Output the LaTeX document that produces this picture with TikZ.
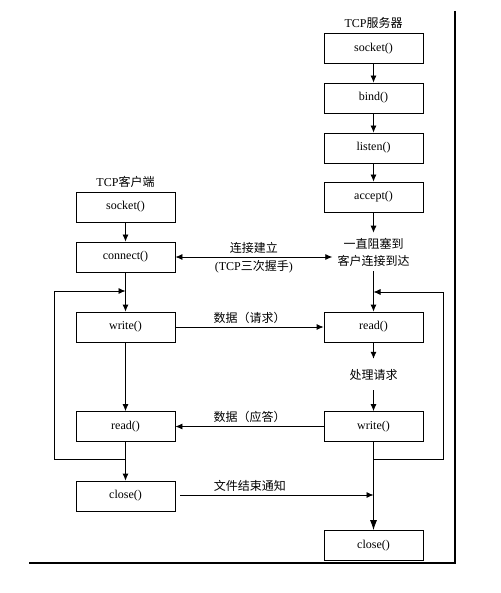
\documentclass[tikz,border=0pt]{standalone}
\usepackage{fontspec}
\setmainfont{Liberation Serif}
\newfontfamily\cjk{Noto Sans CJK SC}
\usetikzlibrary{arrows.meta}

\begin{document}
\begin{tikzpicture}[x=1pt, y=-1pt, font=\fontsize{12}{17}\selectfont,
    box/.style={draw, line width=0.8pt, minimum width=99pt, minimum height=30pt, inner sep=0pt},
    flow/.style={line width=0.8pt, -{Latex[length=7pt, width=6pt]}},
    frame/.style={line width=2.5pt}]
    \useasboundingbox (0, 0) rectangle (500, 593);

    % server side
    \node (stitle) at (373.5, 23) {TCP{\cjk 服务器}};
    \node[box] (ssock) at (373.5, 48.5) {socket()};
    \node[box] (sbind) at (373.5, 98) {bind()};
    \node[box] (slisten) at (373.5, 148) {listen()};
    \node[box] (saccept) at (373.5, 197) {accept()};
    \node[align=center, inner sep=5pt] (wait) at (373.5, 252) {{\cjk 一直阻塞到}\\{\cjk 客户连接到达}};
    \node[box] (sread) at (373.5, 327) {read()};
    \node[inner ysep=10pt] (proc) at (373.5, 374.5) {\cjk 处理请求};
    \node[box] (swrite) at (373.5, 426.5) {write()};
    \node[box] (sclose) at (373.5, 545.5) {close()};

    % client side
    \node (ctitle) at (125.5, 182) {TCP{\cjk 客户端}};
    \node[box] (csock) at (125.5, 207) {socket()};
    \node[box] (cconn) at (125.5, 257) {connect()};
    \node[box] (cwrite) at (125.5, 327) {write()};
    \node[box] (cread) at (125.5, 426.5) {read()};
    \node[box] (cclose) at (125.5, 496) {close()};

    \coordinate (cloop) at (125.5, 459);
    \coordinate (cback) at (125.5, 291);
    \coordinate (sloop) at (373.5, 459);
    \coordinate (sback) at (373.5, 292);
    \coordinate (fin) at (373.5, 495);

    \draw[flow] (ssock) -- (sbind);
    \draw[flow] (sbind) -- (slisten);
    \draw[flow] (slisten) -- (saccept);
    \draw[flow] (saccept) -- (wait);
    \draw[flow] (wait) -- (sread);
    \draw[flow] (sread) -- (proc);
    \draw[flow] (proc) -- (swrite);
    \draw[line width=0.8pt, -{Latex[length=10pt, width=7pt]}] (swrite) -- (sclose);
    \draw[flow] (sloop) -- (443, 459) -- (443, 292) -- (sback);

    \draw[flow] (csock) -- (cconn);
    \draw[flow] (cconn) -- (cwrite);
    \draw[flow] (cwrite) -- (cread);
    \draw[flow] (cread) -- (cclose);
    \draw[flow] (cloop) -- (54, 459) -- (54, 291) -- (cback);

    \draw[line width=0.8pt, {Latex[length=7pt, width=6pt]}-{Latex[length=7pt, width=6pt]}] (cconn) -- (cconn -| wait.west)
        node[midway, above] {\cjk 连接建立} node[midway, below] {(TCP{\cjk 三次握手})};
    \draw[flow] (cwrite) -- (sread) node[midway, above] {\cjk 数据（请求）};
    \draw[flow] (swrite) -- (cread) node[midway, above] {\cjk 数据（应答）};
    \draw[flow] ([xshift=5pt]cclose.east |- fin) -- (fin) node[pos=0.36, above] {\cjk 文件结束通知};

    \draw[frame] (455, 11) -- (455, 563);
    \draw[frame] (29, 563) -- (456.25, 563);
\end{tikzpicture}
\end{document}
